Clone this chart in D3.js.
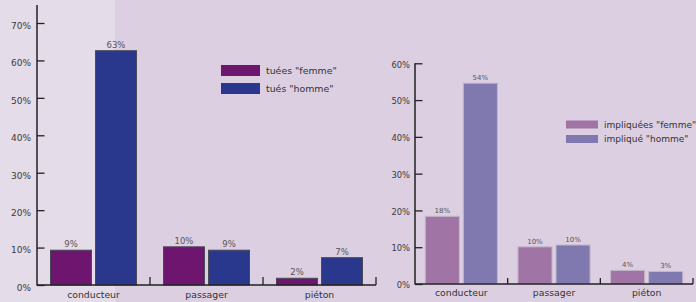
<!DOCTYPE html>
<html>
<head>
<meta charset="utf-8">
<script src="https://cdn.jsdelivr.net/npm/d3@7"></script>
<style>
  body { margin: 0; background: #dccfe2; }
  text { font-family: "DejaVu Sans", sans-serif; }
</style>
</head>
<body>
<script>

// data
const categories = ['conducteur', 'passager', 'piéton'];

const tuesFemme = [9.3, 10.2, 1.8];
const tuesHomme = [62.6, 9.3, 7.3];
const tuesFemmeLabels = ['9%', '10%', '2%'];
const tuesHommeLabels = ['63%', '9%', '7%'];

const implFemme = [18.4, 10.1, 3.7];
const implHomme = [54.6, 10.6, 3.4];
const implFemmeLabels = ['18%', '10%', '4%'];
const implHommeLabels = ['54%', '10%', '3%'];

const leftTicks = [0, 10, 20, 30, 40, 50, 60, 70];
const rightTicks = [0, 10, 20, 30, 40, 50, 60];

let width = 696,
    height = 302;

let svg = d3.select('body')
            .append('svg')
            .attr('width', width)
            .attr('height', height)
            .style('display', 'block')
            .style('background', '#dccfe2')

// lighter strip on the left
svg.append('rect')
   .attr('x', 0).attr('y', 0)
   .attr('width', 115).attr('height', height)
   .attr('fill', '#e5dce9')

function drawChart(opt) {
  let g = svg.append('g')

  let yScale = d3.scaleLinear()
                .domain([0, opt.max])
                .range([opt.bottom, opt.top])

  let x0 = d3.scaleBand()
             .domain(categories)
             .range([opt.left, opt.right])
             .padding(0)

  let x1 = d3.scaleBand()
             .domain(['femme', 'homme'])
             .range([0, x0.bandwidth()])
             .paddingInner(opt.pin)
             .paddingOuter(opt.pout)

  // y axis, ticks pointing inward
  let yAxis = g.append('g')
               .attr('transform', `translate(${opt.left}, 0)`)
               .call(d3.axisLeft(yScale)
                       .tickValues(opt.ticks)
                       .tickFormat(d => d + '%')
                       .tickSizeInner(-7.5)
                       .tickSizeOuter(0)
                       .tickPadding(opt.tickPad))
  yAxis.select('.domain').remove()
  yAxis.selectAll('line').attr('stroke', '#222').attr('stroke-width', 1.3)
  yAxis.selectAll('text')
       .attr('fill', '#3a3a3a')
       .attr('dy', opt.labelDy)
       .style('font-size', opt.tickFont + 'px')
       .style('font-family', '"DejaVu Sans", sans-serif')

  g.append('line')
   .attr('x1', opt.left).attr('x2', opt.left)
   .attr('y1', opt.axisTop).attr('y2', opt.bottom + 0.5)
   .attr('stroke', '#222').attr('stroke-width', 1.5)

  // bars
  let series = [
    {key: 'femme', values: opt.femme, labels: opt.femmeLabels, color: opt.colors[0]},
    {key: 'homme', values: opt.homme, labels: opt.hommeLabels, color: opt.colors[1]}
  ]

  series.forEach(s => {
    g.selectAll('.bar-' + s.key)
     .data(categories)
     .enter()
     .append('rect')
     .attr('x', (d, i) => x0(d) + x1(s.key))
     .attr('y', (d, i) => yScale(s.values[i]))
     .attr('width', x1.bandwidth())
     .attr('height', (d, i) => yScale(0) - yScale(s.values[i]))
     .attr('fill', s.color)
     .attr('stroke', opt.barStroke)
     .attr('stroke-width', 1)

    g.selectAll('.lab-' + s.key)
     .data(categories)
     .enter()
     .append('text')
     .attr('x', (d, i) => x0(d) + x1(s.key) + x1.bandwidth() / 2)
     .attr('y', (d, i) => yScale(s.values[i]) - 3)
     .attr('text-anchor', 'middle')
     .attr('fill', '#555')
     .style('font-size', opt.valueFont + 'px')
     .text((d, i) => s.labels[i])
  })

  // x baseline and category separators
  g.append('line')
   .attr('x1', opt.left).attr('x2', opt.right)
   .attr('y1', yScale(0)).attr('y2', yScale(0))
   .attr('stroke', '#222').attr('stroke-width', 1.5)

  g.selectAll('.sep')
   .data(categories)
   .enter()
   .append('line')
   .attr('x1', d => x0(d) + x0.bandwidth())
   .attr('x2', d => x0(d) + x0.bandwidth())
   .attr('y1', yScale(0))
   .attr('y2', yScale(0) - opt.sepLen)
   .attr('stroke', '#222').attr('stroke-width', 1.3)

  g.selectAll('.cat')
   .data(categories)
   .enter()
   .append('text')
   .attr('x', d => x0(d) + x0.bandwidth() / 2)
   .attr('y', opt.catY)
   .attr('text-anchor', 'middle')
   .attr('fill', '#333')
   .style('font-size', '9.3px')
   .text(d => d)

  // legend
  let legend = g.append('g')
                .attr('transform', `translate(${opt.legX}, ${opt.legY})`)

  series.forEach((s, i) => {
    let lg = legend.append('g')
                   .attr('transform', `translate(0, ${i * opt.legStep})`)
    lg.append('rect')
      .attr('width', opt.legW)
      .attr('height', opt.legH)
      .attr('fill', s.color)
    lg.append('text')
      .attr('x', opt.legW + 6)
      .attr('y', opt.legH / 2)
      .attr('dy', '0.35em')
      .attr('fill', '#333')
      .style('font-size', opt.legFont + 'px')
      .text(opt.legend[i])
  })
}

drawChart({
  max: 70, top: 23, bottom: 285, axisTop: 5,
  left: 37, right: 376, pin: 0.09, pout: 0.3,
  ticks: leftTicks, tickPad: 6, tickFont: 9, labelDy: '0.6em',
  femme: tuesFemme, homme: tuesHomme,
  femmeLabels: tuesFemmeLabels, hommeLabels: tuesHommeLabels,
  colors: ['#6d156f', '#29378d'], barStroke: '#4a4a55',
  valueFont: 8.5, sepLen: 8, catY: 298,
  legX: 221, legY: 65, legStep: 18, legW: 39, legH: 11, legFont: 9.4,
  legend: ['tuées "femme"', 'tués "homme"']
})

drawChart({
  max: 60, top: 63.3, bottom: 284, axisTop: 63.3,
  left: 415, right: 693, pin: 0.105, pout: 0.27,
  ticks: rightTicks, tickPad: 5, tickFont: 8.4, labelDy: '0.45em',
  femme: implFemme, homme: implHomme,
  femmeLabels: implFemmeLabels, hommeLabels: implHommeLabels,
  colors: ['#a075a5', '#7f79b0'], barStroke: '#c2b6c9',
  valueFont: 7, sepLen: 6, catY: 295.5,
  legX: 566, legY: 120.5, legStep: 14.5, legW: 32, legH: 8, legFont: 9,
  legend: ['impliquées "femme"', 'impliqué "homme"']
})

</script>
</body>
</html>
